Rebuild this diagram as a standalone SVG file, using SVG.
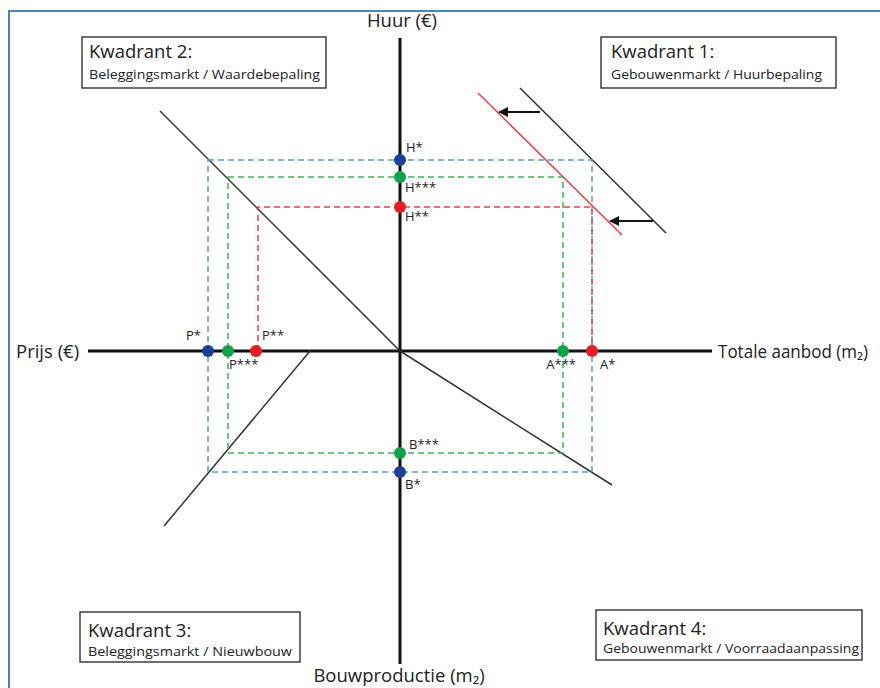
<svg xmlns="http://www.w3.org/2000/svg" width="880" height="688" viewBox="0 0 880 688">
<defs>
<style>
text{font-family:"Open Sans","Liberation Sans",sans-serif;fill:#222}
.ax{font-size:18.5px}
.kt{font-size:18.5px}
.ks{font-size:13px}
.lb{font-size:13px}
.box{fill:#fff;stroke:#222;stroke-width:1.3}
.axis{stroke:#111;stroke-width:3;fill:none}
.curve{stroke:#333;stroke-width:1.5;fill:none}
.db{stroke:#5b9bd5;stroke-width:1.5;stroke-dasharray:6 4;fill:none}
.dg{stroke:#3cb55a;stroke-width:1.5;stroke-dasharray:6 4;fill:none}
.dr{stroke:#ec3f48;stroke-width:1.5;stroke-dasharray:6 4;fill:none}
.cb{fill:#1f3f99}.cg{fill:#0da34b}.cr{fill:#ec1c24}
</style>
<marker id="ah" viewBox="0 0 10 10" refX="9" refY="5" markerWidth="5" markerHeight="5" orient="auto" markerUnits="strokeWidth">
<path d="M0,0 L10,5 L0,10 z" fill="#111"/>
</marker>
</defs>
<rect width="880" height="688" fill="#fff"/>
<path d="M9,688 V11 H880" stroke="#4f81bd" stroke-width="2" fill="none"/>

<g id="connectors">
<line class="axis" x1="400" y1="38" x2="400" y2="664"/>
<line class="axis" x1="88" y1="351" x2="712" y2="351"/>
<line class="curve" x1="160" y1="111" x2="400" y2="351"/>
<line class="curve" x1="400" y1="351" x2="612" y2="485"/>
<line class="curve" x1="310" y1="351" x2="164" y2="526"/>
<line class="curve" x1="520" y1="88" x2="666" y2="233"/>
<line x1="478" y1="93" x2="622" y2="235" stroke="#ec3f48" stroke-width="1.5"/>
<line x1="540" y1="112" x2="499" y2="112" stroke="#111" stroke-width="2" marker-end="url(#ah)"/>
<line x1="653" y1="221" x2="610" y2="221" stroke="#111" stroke-width="2" marker-end="url(#ah)"/>
<rect class="db" x="208" y="160" width="384" height="312"/>
<rect class="dg" x="228" y="177" width="335" height="276"/>
<path class="dr" d="M258,351 V207 H592 V351"/>
</g>

<g id="axis-labels">
<text class="ax" x="402" y="27" text-anchor="middle">Huur (€)</text>
<text class="ax" x="16" y="358">Prijs (€)</text>
<text class="ax" x="718" y="358" textLength="150" lengthAdjust="spacingAndGlyphs">Totale aanbod (m₂)</text>
<text class="ax" x="399" y="682" text-anchor="middle">Bouwproductie (m₂)</text>
</g>

<g id="kwadrant2">
<rect class="box" x="82" y="37" width="244" height="51"/>
<text class="kt" x="89" y="58">Kwadrant 2:</text>
<text class="ks" x="89" y="79" textLength="231" lengthAdjust="spacingAndGlyphs">Beleggingsmarkt / Waardebepaling</text>
</g>
<g id="kwadrant1">
<rect class="box" x="601" y="37" width="235" height="51"/>
<text class="kt" x="611" y="58">Kwadrant 1:</text>
<text class="ks" x="611" y="79" textLength="211" lengthAdjust="spacingAndGlyphs">Gebouwenmarkt / Huurbepaling</text>
</g>
<g id="kwadrant3">
<rect class="box" x="80" y="612" width="220" height="50"/>
<text class="kt" x="88" y="637">Kwadrant 3:</text>
<text class="ks" x="88" y="656" textLength="204" lengthAdjust="spacingAndGlyphs">Beleggingsmarkt / Nieuwbouw</text>
</g>
<g id="kwadrant4">
<rect class="box" x="596" y="610" width="266" height="50"/>
<text class="kt" x="603" y="635">Kwadrant 4:</text>
<text class="ks" x="603" y="653" textLength="256" lengthAdjust="spacingAndGlyphs">Gebouwenmarkt / Voorraadaanpassing</text>
</g>

<g id="H-star"><circle class="cb" cx="400" cy="160" r="6"/><text class="lb" x="406" y="152">H*</text></g>
<g id="H-3star"><circle class="cg" cx="400" cy="177" r="6"/><text class="lb" x="405" y="192">H***</text></g>
<g id="H-2star"><circle class="cr" cx="400" cy="207" r="6"/><text class="lb" x="405" y="221">H**</text></g>
<g id="P-star"><circle class="cb" cx="208" cy="351" r="6"/><text class="lb" x="201" y="340" text-anchor="end">P*</text></g>
<g id="P-3star"><circle class="cg" cx="228" cy="351" r="6"/><text class="lb" x="229" y="369">P***</text></g>
<g id="P-2star"><circle class="cr" cx="256" cy="351" r="6"/><text class="lb" x="262" y="340">P**</text></g>
<g id="A-3star"><circle class="cg" cx="563" cy="351" r="6"/><text class="lb" x="576" y="369" text-anchor="end">A***</text></g>
<g id="A-star"><circle class="cr" cx="592" cy="351" r="6"/><text class="lb" x="600" y="369">A*</text></g>
<g id="B-3star"><circle class="cg" cx="400" cy="453" r="6"/><text class="lb" x="409" y="449">B***</text></g>
<g id="B-star"><circle class="cb" cx="400" cy="472" r="6"/><text class="lb" x="405" y="489">B*</text></g>
</svg>
